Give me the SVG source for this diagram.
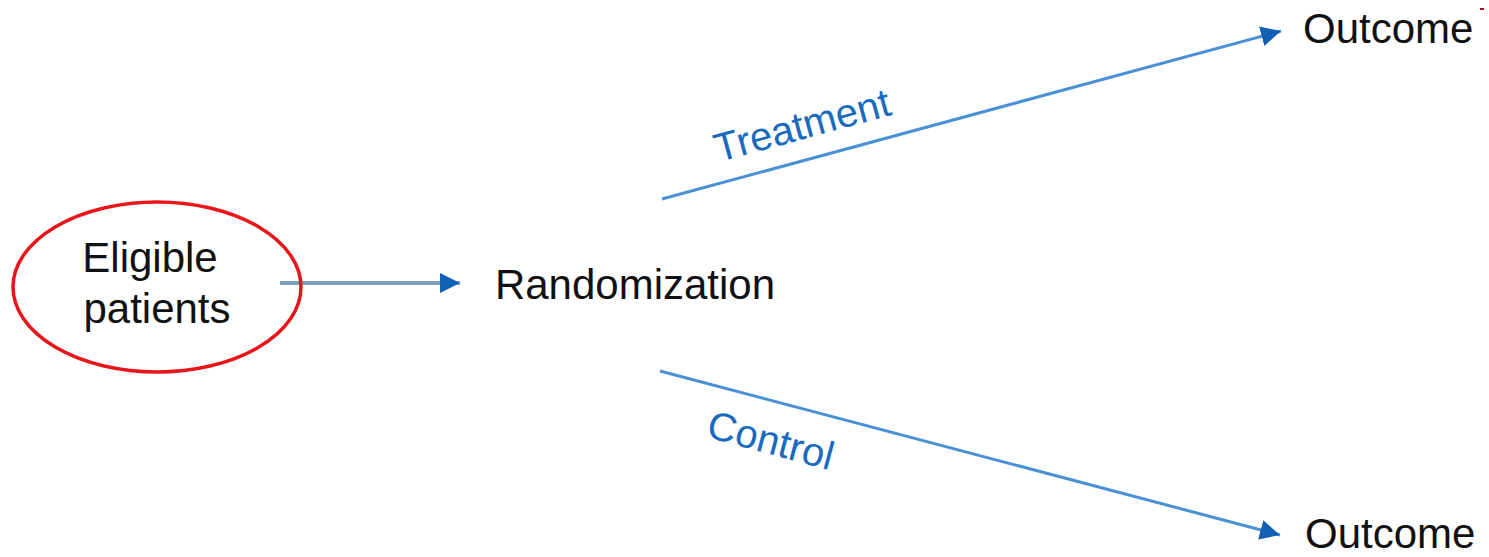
<svg xmlns="http://www.w3.org/2000/svg" width="1489" height="557" viewBox="0 0 1489 557">
<defs>
<marker id="ah2" viewBox="0 0 10 10" refX="10" refY="5" markerWidth="20" markerHeight="22" orient="auto" markerUnits="userSpaceOnUse">
<path d="M0,0 L10,5 L0,10 Z" fill="#1060b4"/>
</marker>
</defs>
<style>
.t{font-family:"Liberation Sans",Arial,sans-serif;font-size:42px;fill:#111}
.lbl{font-family:"Liberation Sans",Arial,sans-serif;font-size:40px;fill:#1a6bbf}
.c{fill:none;stroke:#4a90d4;stroke-width:3}
</style>
<rect width="1489" height="557" fill="#fff"/>
<g id="connectors">
<line x1="280" y1="283" x2="460" y2="283" stroke="#7f9fbd" stroke-width="4" marker-end="url(#ah2)"/>
<line class="c" x1="662" y1="199" x2="1281" y2="31" marker-end="url(#ah2)"/>
<line class="c" x1="660" y1="371" x2="1280" y2="535" marker-end="url(#ah2)"/>
<text class="lbl" text-anchor="middle" transform="translate(802,125) rotate(-15.3)" y="14">Treatment</text>
<text class="lbl" text-anchor="middle" transform="translate(771,440) rotate(15)" y="14">Control</text>
</g>
<g id="eligible">
<ellipse cx="157" cy="287" rx="144" ry="85" fill="none" stroke="#e8161b" stroke-width="3.5"/>
<text class="t" x="150" y="272" text-anchor="middle">Eligible</text>
<text class="t" x="157" y="323" text-anchor="middle">patients</text>
</g>
<g id="randomization">
<text class="t" x="635" y="299" text-anchor="middle">Randomization</text>
</g>
<g id="outcome-top">
<text class="t" x="1303" y="43">Outcome</text>
<rect x="1480" y="8" width="4" height="2" fill="#a0102a"/>
</g>
<g id="outcome-bottom">
<text class="t" x="1305" y="548">Outcome</text>
</g>
</svg>
